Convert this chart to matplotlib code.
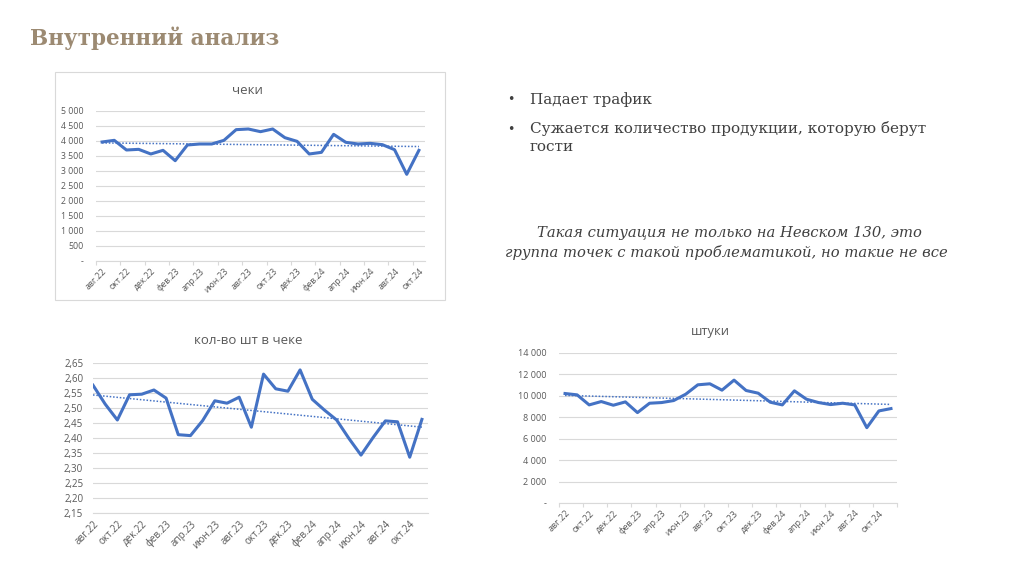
import numpy as np
import matplotlib
matplotlib.use("Agg")
import matplotlib.pyplot as plt

# months (Aug 2022 - Nov 2024)
months = ["авг.22", "сен.22", "окт.22", "ноя.22", "дек.22", "янв.23", "фев.23",
          "мар.23", "апр.23", "май.23", "июн.23", "июл.23", "авг.23", "сен.23",
          "окт.23", "ноя.23", "дек.23", "янв.24", "фев.24", "мар.24", "апр.24",
          "май.24", "июн.24", "июл.24", "авг.24", "сен.24", "окт.24", "ноя.24"]

# чеки (27 months, авг.22 - окт.24)
checks = [3967, 4022, 3700, 3722, 3567, 3689, 3344, 3867, 3900, 3900, 4022, 4378,
          4400, 4311, 4400, 4111, 3989, 3567, 3622, 4222, 3956, 3900, 3922, 3878,
          3711, 2889, 3689]

# кол-во шт в чеке (28 months)
items_per_check = [2.576, 2.513, 2.460, 2.544, 2.546, 2.560, 2.533, 2.411, 2.408,
                   2.458, 2.524, 2.516, 2.536, 2.436, 2.613, 2.564, 2.556, 2.627,
                   2.529, 2.493, 2.460, 2.399, 2.343, 2.402, 2.457, 2.454, 2.336,
                   2.462]

# штуки (28 months)
pieces = [10219, 10094, 9156, 9469, 9125, 9437, 8437, 9312, 9375, 9562, 10156,
          11031, 11125, 10531, 11469, 10500, 10250, 9406, 9156, 10469, 9687, 9375,
          9187, 9312, 9156, 7031, 8594, 8812]

checks_yticks = [0, 500, 1000, 1500, 2000, 2500, 3000, 3500, 4000, 4500, 5000]
checks_ylabels = ["-", "500", "1 000", "1 500", "2 000", "2 500", "3 000", "3 500",
                  "4 000", "4 500", "5 000"]
ipc_yticks = [2.15, 2.20, 2.25, 2.30, 2.35, 2.40, 2.45, 2.50, 2.55, 2.60, 2.65]
ipc_ylabels = ["2,15", "2,20", "2,25", "2,30", "2,35", "2,40", "2,45", "2,50",
               "2,55", "2,60", "2,65"]
pieces_yticks = [0, 2000, 4000, 6000, 8000, 10000, 12000, 14000]
pieces_ylabels = ["-", "2 000", "4 000", "6 000", "8 000", "10 000", "12 000", "14 000"]

BLUE = "#4472C4"
GRID = "#d9d9d9"
TXT = "#595959"
W, H = 1024, 574

plt.rcParams['font.family'] = ['Open Sans', 'DejaVu Sans']

fig = plt.figure(figsize=(W / 100, H / 100), dpi=100)
fig.patch.set_facecolor("white")


def px_axes(x0, x1, y_top, y_bot):
    return fig.add_axes([x0 / W, 1 - y_bot / H, (x1 - x0) / W, (y_bot - y_top) / H])


def draw_chart(ax, values, yticks, ylabels, title, title_y, between, title_x,
               lsize, ypad, tsize):
    n = len(values)
    x = np.arange(n)
    ax.plot(x, values, color=BLUE, lw=2.2, solid_joinstyle="round", zorder=3)
    k, b = np.polyfit(x, values, 1)
    ax.plot(x, k * x + b, color=BLUE, lw=1.1, ls=(0, (1, 1.2)), zorder=2)
    ax.set_ylim(yticks[0], yticks[-1])
    ax.set_yticks(yticks)
    ax.set_yticklabels(ylabels)
    ax.yaxis.grid(True, color=GRID, lw=0.8)
    ax.set_axisbelow(True)
    for s in ["top", "right", "left"]:
        ax.spines[s].set_visible(False)
    ax.spines["bottom"].set_color(GRID)
    ax.tick_params(axis="y", length=0, labelsize=lsize, labelcolor=TXT, pad=ypad)
    lab_pos = list(range(0, n, 2))
    ax.set_xticks(lab_pos)
    ax.set_xticklabels([months[i] for i in lab_pos], rotation=45, ha="right",
                       rotation_mode="anchor")
    ax.tick_params(axis="x", length=0, labelsize=lsize, labelcolor=TXT, pad=4)
    if between:
        ax.set_xlim(-0.5, 27.5 if n == 28 else n - 0.5)
        minor = np.arange(-0.5, n, 2)
    else:
        ax.set_xlim(0, n - 0.5)
        minor = np.arange(0, n, 2)
    ax.set_xticks(minor, minor=True)
    ax.tick_params(axis="x", which="minor", length=3, color=GRID, width=0.8)
    fig.text(title_x / W, 1 - title_y / H, title, ha="center", va="center",
             fontsize=tsize, color=TXT)


# top chart with border
border = plt.Rectangle((55 / W, 1 - 300 / H), 390 / W, 228 / H, transform=fig.transFigure,
                       fill=False, edgecolor="#d9d9d9", lw=0.8)
fig.patches.append(border)

ax1 = px_axes(96, 425, 111, 261)
draw_chart(ax1, checks, checks_yticks, checks_ylabels, "чеки", 90, True, 247,
           6.3, 9, 9.5)

ax2 = px_axes(93, 428, 363, 513)
draw_chart(ax2, items_per_check, ipc_yticks, ipc_ylabels, "кол-во шт в чеке", 341,
           False, 248, 7, 7, 9.5)

ax3 = px_axes(559, 897, 353, 503)
draw_chart(ax3, pieces, pieces_yticks, pieces_ylabels, "штуки", 332, True, 710,
           6.5, 9, 9.3)

# slide text
fig.text(30 / W, 1 - 38 / H, "Внутренний анализ", fontsize=15.5, fontweight="bold",
         family="DejaVu Serif", color="#9c8a72", va="center", ha="left")

body = "#404040"
fig.text(507 / W, 1 - 100 / H, "•", fontsize=9, color=body, va="center", family="DejaVu Serif")
fig.text(530 / W, 1 - 100 / H, "Падает трафик", fontsize=11, color=body, va="center",
         family="DejaVu Serif")
fig.text(507 / W, 1 - 129 / H, "•", fontsize=9, color=body, va="center", family="DejaVu Serif")
fig.text(530 / W, 1 - 129 / H, "Сужается количество продукции, которую берут",
         fontsize=11, color=body, va="center", family="DejaVu Serif")
fig.text(530 / W, 1 - 147 / H, "гости", fontsize=11, color=body, va="center",
         family="DejaVu Serif")

fig.text(729 / W, 1 - 233 / H, "Такая ситуация не только на Невском 130, это",
         fontsize=10.6, color=body, va="center", ha="center", style="italic",
         family="DejaVu Serif")
fig.text(726 / W, 1 - 253 / H, "группа точек с такой проблематикой, но такие не все",
         fontsize=10.6, color=body, va="center", ha="center", style="italic",
         family="DejaVu Serif")

fig.savefig("out.png", dpi=100)
